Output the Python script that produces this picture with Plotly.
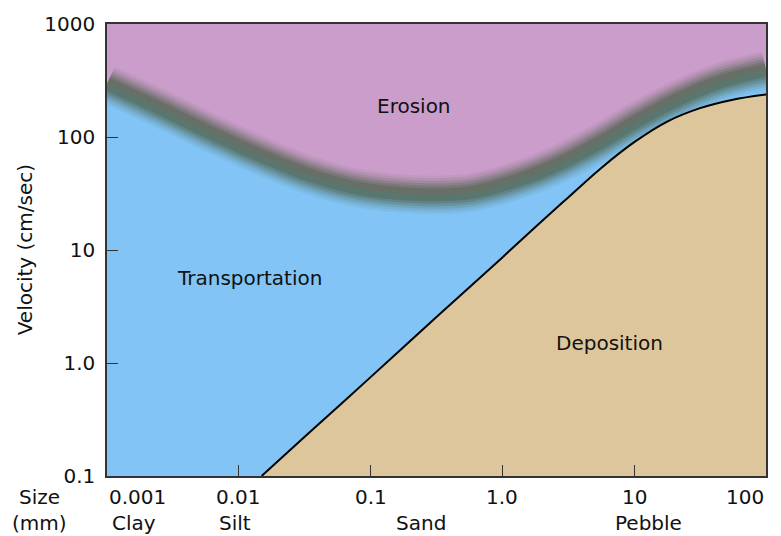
import math
import plotly.graph_objects as go

# ---- data ----
erosion_size = [0.001, 0.0025, 0.006, 0.0144, 0.0345, 0.083, 0.235, 0.56, 1.35, 2.7, 5.4, 10.9, 22, 44, 100]
erosion_velocity = [295, 180, 110, 69, 46, 35, 31, 32, 42, 58, 88, 142, 218, 305, 390]

deposition_size = [0.0149, 0.0316, 0.1, 0.316, 1.0, 1.78, 3.16, 5.6, 10, 17.8, 31.6, 56, 100]
deposition_velocity = [0.1, 0.222, 0.75, 2.55, 8.6, 16.0, 29.2, 53, 90, 137, 180, 214, 238]

x_tick_values = [0.001, 0.01, 0.1, 1, 10, 100]
x_tick_labels = ["0.001", "0.01", "0.1", "1.0", "10", "100"]
y_tick_values = [0.1, 1, 10, 100, 1000]
y_tick_labels = ["0.1", "1.0", "10", "100", "1000"]
size_classes = ["Clay", "Silt", "Sand", "Pebble"]
region_labels = ["Erosion", "Transportation", "Deposition"]

# ---- styling ----
PINK = "#CA9DCA"
BLUE = "#82C4F5"
TAN = "#DEC69C"
FONT = "DejaVu Sans, Liberation Sans, Arial, sans-serif"
FS = 20

x_min, x_max = x_tick_values[0], x_tick_values[-1]
y_min = y_tick_values[0]

fig = go.Figure()

# blue (transportation) region: between the bottom of the chart and the erosion curve
fig.add_trace(go.Scatter(x=[x_min, x_max], y=[y_min, y_min], mode="lines",
                         line=dict(width=0), hoverinfo="skip", showlegend=False))
fig.add_trace(go.Scatter(x=erosion_size, y=erosion_velocity, mode="lines",
                         line=dict(width=0, shape="spline", smoothing=1.0),
                         fill="tonexty", fillcolor=BLUE, hoverinfo="skip", showlegend=False))

# soft dark band along the erosion curve
for w, a in [(38, 0.08), (33, 0.12), (28, 0.17), (23, 0.24), (18, 0.32), (13, 0.42)]:
    fig.add_trace(go.Scatter(x=erosion_size, y=erosion_velocity, mode="lines",
                             line=dict(width=w, color=f"rgba(80,100,78,{a})",
                                       shape="spline", smoothing=1.0),
                             hoverinfo="skip", showlegend=False))

# deposition region
fig.add_trace(go.Scatter(x=[deposition_size[0], x_max], y=[y_min, y_min], mode="lines",
                         line=dict(width=0), hoverinfo="skip", showlegend=False))
fig.add_trace(go.Scatter(x=deposition_size, y=deposition_velocity, mode="lines",
                         line=dict(width=2, color="black", shape="spline", smoothing=1.0),
                         fill="tonexty", fillcolor=TAN, hoverinfo="skip", showlegend=False))

annotations = []
# x tick labels (log axis: annotation x in log10 units)
for i, (v, t) in enumerate(zip(x_tick_values, x_tick_labels)):
    anchor = "left" if i == 0 else ("right" if i == len(x_tick_values) - 1 else "center")
    annotations.append(dict(x=math.log10(v), y=-0.047, xref="x", yref="paper", text=t,
                            showarrow=False, xanchor=anchor, yanchor="middle",
                            font=dict(size=FS, color="#111")))
# size classes
class_pos = [0.00105, 0.0093, 0.24, 12.8]
class_anchor = ["left", "center", "center", "center"]
for name, p, anc in zip(size_classes, class_pos, class_anchor):
    annotations.append(dict(x=math.log10(p), y=-0.103, xref="x", yref="paper", text=name,
                            showarrow=False, xanchor=anc, yanchor="middle",
                            font=dict(size=FS, color="#111")))
# row headers
annotations.append(dict(x=-0.102, y=-0.047, xref="paper", yref="paper", text="Size", showarrow=False,
                        xanchor="center", yanchor="middle", font=dict(size=FS, color="#111")))
annotations.append(dict(x=-0.102, y=-0.103, xref="paper", yref="paper", text="(mm)", showarrow=False,
                        xanchor="center", yanchor="middle", font=dict(size=FS, color="#111")))
# y title
annotations.append(dict(x=-0.124, y=0.5, xref="paper", yref="paper", text="Velocity (cm/sec)",
                        showarrow=False, textangle=-90, xanchor="center", yanchor="middle",
                        font=dict(size=20, color="#111")))
# region labels
region_pos = [(0.212, 188), (0.0121, 5.7), (6.5, 1.5)]
for name, (px, py) in zip(region_labels, region_pos):
    annotations.append(dict(x=math.log10(px), y=math.log10(py), xref="x", yref="y", text=name,
                            showarrow=False, xanchor="center", yanchor="middle",
                            font=dict(size=FS, color="#111")))

fig.update_layout(
    width=781, height=536,
    margin=dict(l=107, r=15, t=16, b=60),
    paper_bgcolor="white", plot_bgcolor=PINK,
    font=dict(family=FONT, size=FS, color="#111"),
    showlegend=False,
    annotations=annotations,
    xaxis=dict(type="log", range=[-3, 2], showgrid=False, zeroline=False,
               tickvals=x_tick_values[1:-1], ticks="inside", ticklen=11, tickwidth=1,
               tickcolor="#333", showticklabels=False,
               showline=True, linecolor="#333", linewidth=1.5, mirror=True),
    yaxis=dict(type="log", range=[-1, 3], showgrid=False, zeroline=False,
               tickvals=y_tick_values, ticktext=y_tick_labels, ticks="inside", ticklen=11,
               tickwidth=1, tickcolor="#333", ticklabelstandoff=6,
               tickfont=dict(size=FS, color="#111"),
               showline=True, linecolor="#333", linewidth=1.5, mirror=True),
)

fig.write_html("out.html", config={"displayModeBar": False},
               post_script="document.body.style.margin='0';document.body.style.padding='0';"
                           "document.body.style.overflow='hidden';")
